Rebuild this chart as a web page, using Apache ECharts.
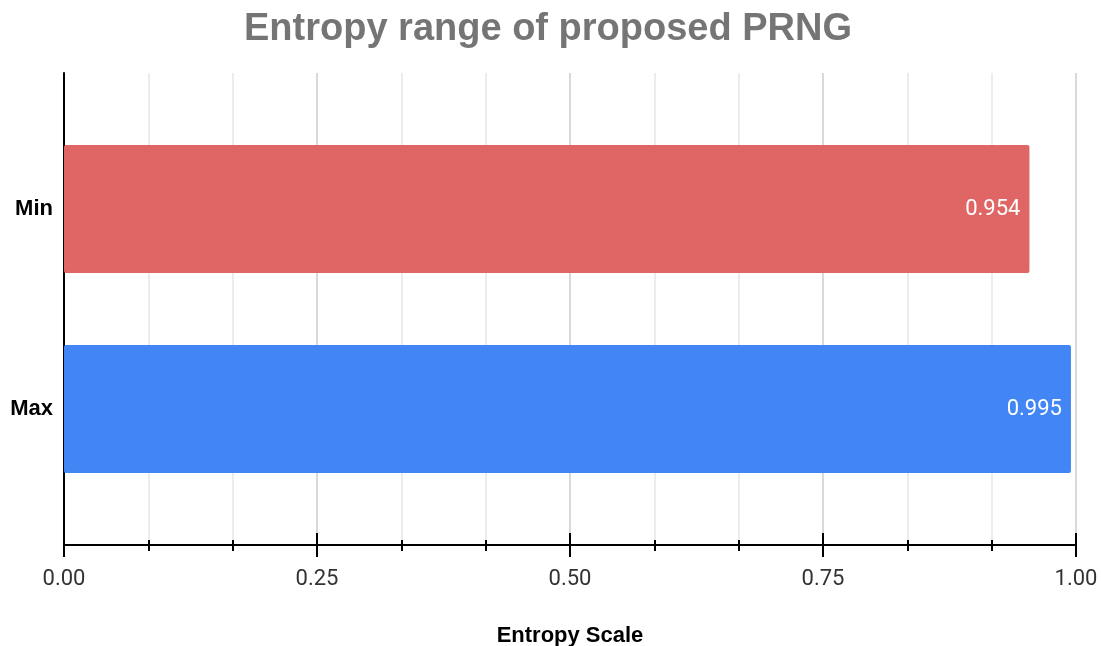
<!DOCTYPE html>
<html><head><meta charset="utf-8">
<script src="https://cdn.jsdelivr.net/npm/echarts@6/dist/echarts.min.js"></script>
<style>html,body{margin:0;padding:0;background:#fff}#c{width:1101px;height:646px}</style>
</head><body><div id="c"></div>
<script>
const categories = ['Max', 'Min'];
const values = [0.995, 0.954];
const barColors = ['#4285f4', '#e06666'];
const titleText = 'Entropy range of proposed PRNG';
const axisName = 'Entropy Scale';

const chart = echarts.init(document.getElementById('c'), null, {renderer: 'canvas'});
const baseX = {
  min: 0, max: 1, interval: 0.25, type: 'value'
};
chart.setOption({
  animation: false,
  title: {text: titleText, left: 543, textAlign: 'center', top: 6,
    textStyle: {fontFamily: 'Liberation Sans, Arial', fontWeight: 'bold', fontSize: 38, color: '#757575'}},
  grid: [
    {left: 64, right: 25, top: 73, bottom: 101, outerBoundsMode: 'none', containLabel: false},
    {left: 64, right: 25, top: 109, height: 400, outerBoundsMode: 'none', containLabel: false}
  ],
  xAxis: [
    Object.assign({}, baseX, {gridIndex: 0, position: 'bottom',
      axisLine: {show: true, lineStyle: {color: '#000', width: 2}},
      axisTick: {show: true, inside: false, length: 12, lineStyle: {color: '#000', width: 2}},
      minorTick: {show: true, splitNumber: 3, length: 6, lineStyle: {color: '#000', width: 2}},
      axisLabel: {margin: 23, fontFamily: 'Roboto, Arial', fontSize: 22, color: '#333',
        formatter: v => v.toFixed(2)},
      splitLine: {show: true, lineStyle: {color: '#cccccc', width: 1.5}},
      minorSplitLine: {show: true, lineStyle: {color: '#e6e6e6', width: 1.5}},
      name: axisName, nameLocation: 'middle', nameGap: 80,
      nameTextStyle: {fontFamily: 'Liberation Sans, Arial', fontWeight: 'bold', fontSize: 22, color: '#000'}
    }),
    Object.assign({}, baseX, {gridIndex: 0, position: 'bottom',
      axisLine: {show: false},
      axisTick: {show: true, inside: true, length: 12, lineStyle: {color: '#000', width: 2}},
      minorTick: {show: true, splitNumber: 3, length: 5, lineStyle: {color: '#000', width: 2}},
      axisLabel: {show: false}, splitLine: {show: false}
    }),
    Object.assign({}, baseX, {gridIndex: 1, show: false, splitLine: {show: false}})
  ],
  yAxis: [
    {gridIndex: 0, type: 'category', data: categories,
      axisLine: {show: true, onZero: false, lineStyle: {color: '#000', width: 2}},
      axisTick: {show: false}, axisLabel: {show: false}, splitLine: {show: false}},
    {gridIndex: 1, type: 'category', data: categories,
      axisLine: {show: false}, axisTick: {show: false},
      axisLabel: {margin: 11, fontFamily: 'Liberation Sans, Arial', fontWeight: 'bold', fontSize: 22, color: '#000'}}
  ],
  series: [{
    type: 'bar', xAxisIndex: 2, yAxisIndex: 1, barWidth: 128,
    data: values.map((v, i) => ({value: v, itemStyle: {color: barColors[i]}})),
    itemStyle: {borderRadius: 2},
    label: {show: true, position: 'insideRight', distance: 9, color: '#fff',
      fontFamily: 'Roboto, Arial', fontSize: 22, formatter: p => p.value.toFixed(3)}
  }]
});
</script></body></html>
